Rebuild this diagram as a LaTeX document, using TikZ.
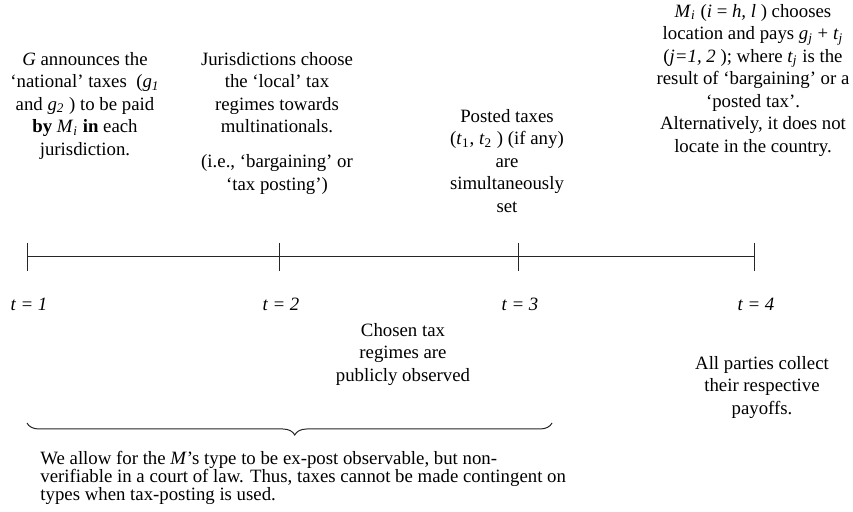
\documentclass[tikz,border=0pt]{standalone}
\usepackage{fontspec}
\setmainfont{Liberation Serif}
\usetikzlibrary{decorations.pathreplacing}

\newcommand{\evtsize}{\fontsize{9.4}{11.25}\selectfont}

\begin{document}
\begin{tikzpicture}[%
    x=0.5pt, y=-0.5pt,
    event/.style={
        align=center,
        inner sep=0,
        anchor=north,
        font=\evtsize
        },
    period/.style={
        inner sep=0,
        anchor=base,
        font=\evtsize\itshape
        },
    note/.style={
        align=left,
        inner sep=0,
        anchor=north west,
        font=\fontsize{9.4}{8.9}\selectfont
        },
    timeline/.style={line width=0.5pt, black!85},
]

\useasboundingbox (0,0) rectangle (853,512);

% the time line with its four dates
\foreach \x [count=\n from 1] in {27,279,518,754}{
    \coordinate (tk\n) at (\x,257);
    \draw[timeline] ([yshift=7pt]tk\n) -- ([yshift=-7pt]tk\n);
    \node[period] (t\n) at (\x+2,311) {t = \n};
}
\draw[timeline] (tk1) -- (tk4);

% what happens at each date
\node[event] (announce) at (85,52) {\textit{G} announces the\\
    ‘national’ taxes\ \ (\textit{g}\textsubscript{\textit{1}}\\
    and \textit{g}\textsubscript{\textit{2}} ) to be paid\\
    \textbf{by} \textit{M}\textsubscript{\textit{i}} \textbf{in} each\\
    jurisdiction.};
\node[event] (regime) at (277,52) {Jurisdictions choose\\
    the ‘local’ tax\\
    regimes towards\\
    multinationals.\\[6.25pt]
    (i.e., ‘bargaining’ or\\
    ‘tax posting’)};
\node[event] (posted) at (507,109) {Posted taxes\\
    (\textit{t}\textsubscript{1}, \textit{t}\textsubscript{2} ) (if any)\\
    are\\
    simultaneously\\
    set};
\node[event] (locate) at (753,4) {\textit{M}\textsubscript{\textit{i}} (\textit{i} = \textit{h, l} ) chooses\\
    location and pays \textit{g}\textsubscript{\textit{j}} + \textit{t}\textsubscript{\textit{j}}\\
    (\textit{j=1, 2} ); where \textit{t}\textsubscript{\textit{j}} is the\\
    result of ‘bargaining’ or a\\
    ‘posted tax’.\\
    Alternatively, it does not\\
    locate in the country.};
\node[event] (observe) at (403,323) {Chosen tax\\ regimes are\\ publicly observed};
\node[event] (payoff) at (762,356) {All parties collect\\ their respective\\ payoffs.};

% brace over the first three dates
\coordinate (bl) at (27,423);
\coordinate (br) at (552,423);
\draw[timeline, decorate, decoration={brace, mirror, amplitude=6pt, aspect=0.51}] (bl) -- (br);
\node[note] (types) at (40,451) {We allow for the \textit{M}’s type to be ex-post observable, but non-\\
    verifiable in a court of law. Thus, taxes cannot be made contingent on\\
    types when tax-posting is used.};
\end{tikzpicture}
\end{document}
